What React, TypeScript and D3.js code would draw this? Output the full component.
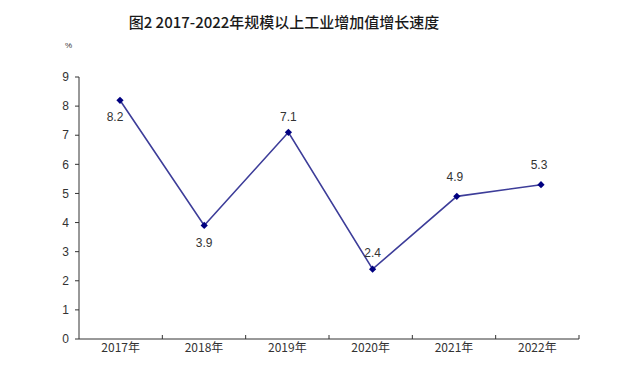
import React from "react";
import * as d3 from "d3";

const categories = ["2017年", "2018年", "2019年", "2020年", "2021年", "2022年"];
const values = [8.2, 3.9, 7.1, 2.4, 4.9, 5.3];
const labelSide = ["below", "below", "above", "above", "above", "above"];
const yTicks = [0, 1, 2, 3, 4, 5, 6, 7, 8, 9];
const title = "图2 2017-2022年规模以上工业增加值增长速度";
const unit = "%";

const W = 617;
const H = 366;

export default function App() {
  const x0 = 79, x1 = 579, y0 = 339, y1 = 77;
  const band = d3.scaleBand<string>().domain(categories).range([x0, x1]);
  const px = d3.scalePoint<string>().domain(categories).range([120, 541]);
  const y = d3.scaleLinear().domain([0, 9]).range([y0, y1]);
  const line = d3
    .line<number>()
    .x((_, i) => px(categories[i]) as number)
    .y((d) => y(d));
  const diamond = d3.symbol().type(d3.symbolSquare).size(26)() as string;
  const bounds = categories.map((c) => (band(c) as number) + band.bandwidth());

  return (
    <svg
      width={W}
      height={H}
      style={{ position: "absolute", left: 0, top: 0, background: "#fff" }}
    >
      <text
        x={284}
        y={28}
        textAnchor="middle"
        fontFamily="'Noto Sans CJK SC', sans-serif"
        fontWeight={500}
        fontSize={15}
        fill="#1a1a1a"
      >
        {title}
      </text>
      <text x={65} y={48} fontFamily="'Liberation Sans', Arial" fontSize={8} fill="#333">
        {unit}
      </text>
      <line x1={x0} x2={x0} y1={y1} y2={y0} stroke="#333" strokeWidth={1} />
      <line x1={x0} x2={x1} y1={y0} y2={y0} stroke="#333" strokeWidth={1} />
      {yTicks.map((t) => (
        <g key={t}>
          <line x1={x0 - 4} x2={x0} y1={y(t)} y2={y(t)} stroke="#333" />
          <text
            x={69}
            y={y(t)}
            dy="0.35em"
            textAnchor="end"
            fontFamily="'Liberation Sans', Arial"
            fontSize={12}
            fill="#333"
          >
            {t}
          </text>
        </g>
      ))}
      {bounds.map((bx, i) => (
        <line key={i} x1={bx} x2={bx} y1={y0} y2={y0 - 4} stroke="#333" />
      ))}
      {categories.map((c) => (
        <text
          key={c}
          x={(band(c) as number) + band.bandwidth() / 2}
          y={352}
          textAnchor="middle"
          fontFamily="'Noto Sans CJK SC', sans-serif"
          fontSize={12}
          fill="#333"
        >
          {c}
        </text>
      ))}
      <path d={line(values) as string} fill="none" stroke="#3d3d99" strokeWidth={1.6} />
      {values.map((v, i) => (
        <path
          key={i}
          d={diamond}
          transform={`translate(${px(categories[i])},${y(v)}) rotate(45)`}
          fill="#000080"
        />
      ))}
      {values.map((v, i) => {
        const cx = px(categories[i]) as number;
        const below = labelSide[i] === "below";
        const dx = i === 0 ? -5 : i === 4 || i === 5 ? -2 : 0;
        const dy = below ? 17 : i >= 4 ? -20 : -16;
        return (
          <text
            key={i}
            x={cx + dx}
            y={y(v) + dy}
            dy="0.35em"
            textAnchor="middle"
            fontFamily="'Liberation Sans', Arial"
            fontSize={12}
            fill="#333"
          >
            {v.toFixed(1)}
          </text>
        );
      })}
    </svg>
  );
}
